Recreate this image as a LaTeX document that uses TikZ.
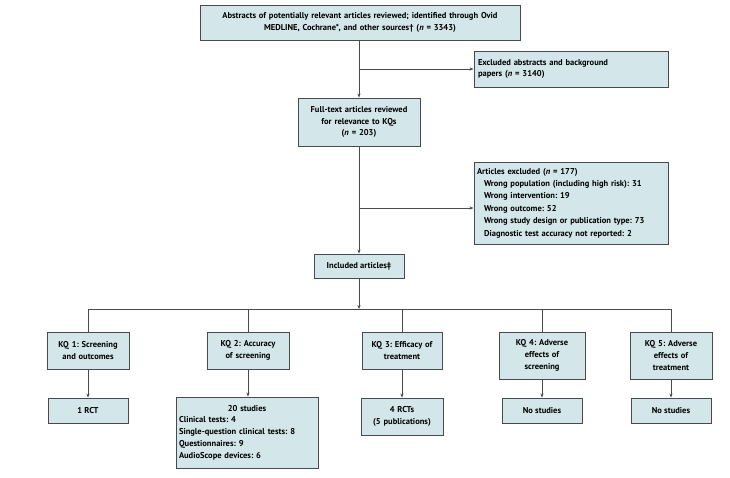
\documentclass[tikz,border=0pt]{standalone}
\usepackage{fontspec}
\setmainfont{PT Sans}
\usetikzlibrary{arrows.meta,shadows}
\definecolor{boxfill}{HTML}{D3E6EA}
\definecolor{boxline}{HTML}{4A4A4A}
\frenchspacing
\begin{document}
\begin{tikzpicture}[x=1pt,y=1pt,
  box/.style={draw=boxline,line width=0.9pt,fill=boxfill,inner sep=3pt,
    font=\fontsize{8.5}{11.8}\selectfont\bfseries\frenchspacing,
    drop shadow={shadow xshift=0.8pt,shadow yshift=-0.8pt,fill=gray!70,opacity=1}},
  conn/.style={draw=boxline,line width=0.8pt},
  arr/.style={conn,-{Stealth[length=4pt,width=3.2pt]}}]
\useasboundingbox (0,0) rectangle (730,-478);
% top
\node[box,minimum width=320,minimum height=35,text width=314,align=center] (top) at (360,-22.5)
  {Abstracts of potentially relevant articles reviewed; identified through Ovid\\MEDLINE, Cochrane*, and other sources\textdagger\ (\textit{n} = 3343)};
\node[box,minimum width=194,minimum height=36,text width=186,align=left] (excl) at (571,-69)
  {Excluded abstracts and background\\papers (\textit{n} = 3140)};
\node[box,minimum width=120,minimum height=48,text width=116,align=center] (full) at (359,-122)
  {Full-text articles reviewed\\for relevance to KQs\\(\textit{n} = 203)};
\node[box,minimum width=194,minimum height=82,text width=188,align=left,
  font=\fontsize{8.5}{12.4}\selectfont\bfseries\frenchspacing] (artex) at (571,-203)
  {Articles excluded (\textit{n} = 177)\\
   \hspace*{7pt}Wrong population (including high risk): 31\\
   \hspace*{7pt}Wrong intervention: 19\\
   \hspace*{7pt}Wrong outcome: 52\\
   \hspace*{7pt}Wrong study design or publication type: 73\\
   \hspace*{7pt}Diagnostic test accuracy not reported: 2};
\node[box,minimum width=90,minimum height=24,align=center] (incl) at (359,-266) {Included articles\textdaggerdbl};
% KQ boxes
\node[box,minimum width=80,minimum height=37,text width=76,align=center] (kq1) at (88,-350.5) {KQ 1: Screening\\and outcomes};
\node[box,minimum width=80,minimum height=37,text width=76,align=center] (kq2) at (248,-350.5) {KQ 2: Accuracy\\of screening};
\node[box,minimum width=78,minimum height=37,text width=74,align=center] (kq3) at (402,-350.5) {KQ 3: Efficacy of\\treatment};
\node[box,minimum width=86,minimum height=47,text width=80,align=center] (kq4) at (542,-355.5) {KQ 4: Adverse\\effects of\\screening};
\node[box,minimum width=80,minimum height=47,text width=76,align=center] (kq5) at (671,-355.5) {KQ 5: Adverse\\effects of\\treatment};
% results
\node[box,minimum width=80,minimum height=25,align=center] (r1) at (88,-410.5) {1 RCT};
\node[box,minimum width=140,minimum height=71,text width=136,align=left] (r2) at (247,-432.5)
  {\makebox[136pt]{20 studies}\\Clinical tests: 4\\Single-question clinical tests: 8\\Questionnaires: 9\\AudioScope devices: 6};
\node[box,minimum width=80,minimum height=37,text width=76,align=center] (r3) at (402,-416.5) {4 RCTs\\(5 publications)};
\node[box,minimum width=80,minimum height=25,align=center] (r4) at (542,-410.5) {No studies};
\node[box,minimum width=80,minimum height=25,align=center] (r5) at (671,-410.5) {No studies};
% connectors
\coordinate (b1) at (359,-69);
\coordinate (b2) at (359,-208);
\coordinate (hub) at (359,-309);
\coordinate (h1) at (88,-309);
\coordinate (h2) at (248,-309);
\coordinate (h3) at (402,-309);
\coordinate (h4) at (542,-309);
\coordinate (h5) at (671,-309);
\draw[arr] (top.south -| full.north) -- (full.north);
\draw[arr] (b1) -- (excl.west |- b1);
\draw[arr] (full.south) -- (incl.north);
\draw[arr] (b2) -- (artex.west |- b2);
\draw[arr] (incl.south) -- (hub);
\draw[conn] (h1) -- (h5);
\draw[conn] (h1) -- (kq1.north);
\draw[conn] (h2) -- (kq2.north);
\draw[conn] (h3) -- (kq3.north);
\draw[conn] (h4) -- (kq4.north);
\draw[conn] (h5) -- (kq5.north);
\draw[arr] (kq1.south) -- (r1.north);
\draw[arr] (kq2.south) -- (r2.north -| kq2.south);
\draw[arr] (kq3.south) -- (r3.north);
\draw[arr] (kq4.south) -- (r4.north);
\draw[arr] (kq5.south) -- (r5.north);
\end{tikzpicture}
\end{document}
